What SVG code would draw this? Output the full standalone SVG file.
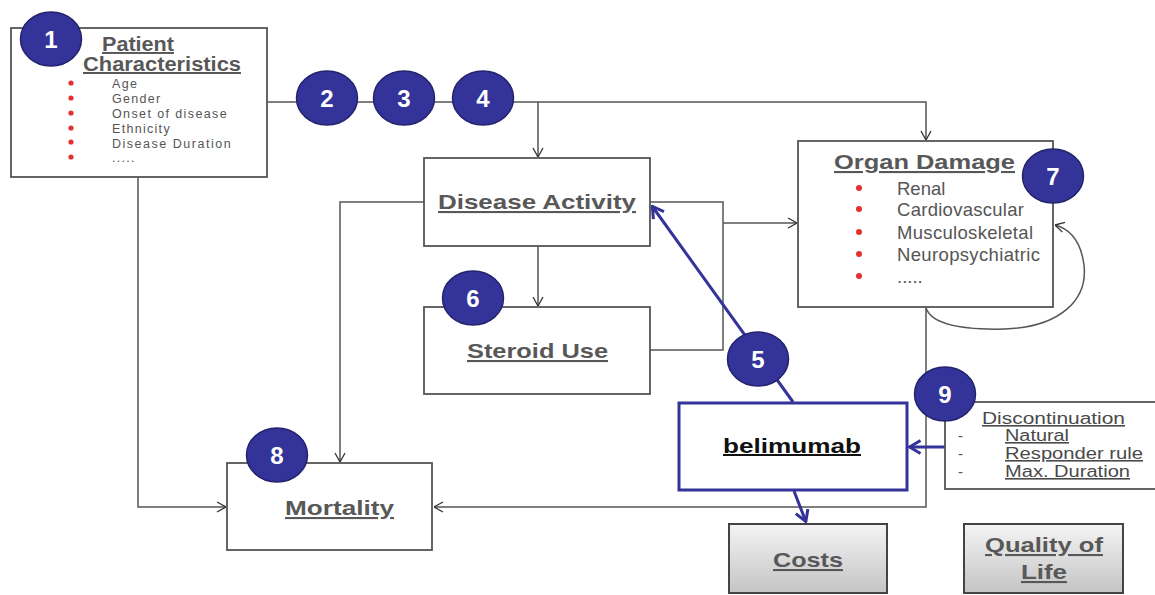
<svg xmlns="http://www.w3.org/2000/svg" width="1155" height="595" viewBox="0 0 1155 595">
<style>
text{font-family:"Liberation Sans",Arial,sans-serif}
.box{fill:#fff;stroke:#555;stroke-width:1.8}
.gbox{fill:url(#grey);stroke:#444;stroke-width:2}
.blue{fill:#fff;stroke:#33339a;stroke-width:3}
.title{font-weight:bold;fill:#585858;text-decoration:underline}
.item{fill:#555;font-size:12.5px;letter-spacing:1.3px}
.oitem{fill:#555;font-size:18.5px}
.ditem{fill:#4a4a4a;font-size:16px;text-decoration:underline}
.bul{fill:#e53030}
.conn{fill:none;stroke:#555;stroke-width:1.5}
.bconn{fill:none;stroke:#33339a;stroke-width:3}
.badge ellipse{fill:#333399;stroke:#23236e;stroke-width:1.5}
.badge text{fill:#fff;font-weight:bold;font-size:24px;text-anchor:middle}
</style>
<defs>
<linearGradient id="grey" x1="0" y1="0" x2="0" y2="1">
<stop offset="0" stop-color="#f4f4f4"/>
<stop offset="1" stop-color="#c4c4c4"/>
</linearGradient>
<marker id="ah" viewBox="0 0 10 12" refX="10" refY="6" markerWidth="10" markerHeight="12" markerUnits="userSpaceOnUse" orient="auto">
<path d="M1,1 L10,6 L1,11" fill="none" stroke="#333" stroke-width="1.3"/>
</marker>
<marker id="bh" viewBox="0 0 14 16" refX="13" refY="8" markerWidth="14" markerHeight="16" markerUnits="userSpaceOnUse" orient="auto">
<path d="M1.5,1.5 L12.5,8 L1.5,14.5" fill="none" stroke="#33339a" stroke-width="3"/>
</marker>
</defs>
<rect width="1155" height="595" fill="#fff"/>

<g id="connectors">
<path class="conn" d="M267,102 H926 V140" marker-end="url(#ah)"/>
<path class="conn" d="M538,102 V157" marker-end="url(#ah)"/>
<path class="conn" d="M538,246 V306" marker-end="url(#ah)"/>
<path class="conn" d="M138,177 V507 H226" marker-end="url(#ah)"/>
<path class="conn" d="M424,202 H340 V462" marker-end="url(#ah)"/>
<path class="conn" d="M650,202 H723 V350 H650"/>
<path class="conn" d="M723,223 H797" marker-end="url(#ah)"/>
<path class="conn" d="M926,307 V507 H434" marker-end="url(#ah)"/>
<path class="conn" d="M926,308 C932,325 965,330 1005,329 C1060,327 1088,300 1084,265 C1081,242 1070,229 1055,225" marker-end="url(#ah)"/>
<path class="bconn" d="M793,402 L652,206" marker-end="url(#bh)"/>
<path class="bconn" d="M794,491 L806,522" marker-end="url(#bh)"/>
<path class="bconn" d="M945,447 H909" marker-end="url(#bh)"/>
</g>

<g id="patient">
<rect class="box" x="11" y="28" width="256" height="149"/>
<text class="title" x="102" y="51" font-size="19.5" textLength="72" lengthAdjust="spacingAndGlyphs">Patient</text>
<text class="title" x="83" y="71" font-size="20" textLength="158" lengthAdjust="spacingAndGlyphs">Characteristics</text>
<circle class="bul" cx="71" cy="83" r="2.6"/>
<circle class="bul" cx="71" cy="98" r="2.6"/>
<circle class="bul" cx="71" cy="113" r="2.6"/>
<circle class="bul" cx="71" cy="128" r="2.6"/>
<circle class="bul" cx="71" cy="142" r="2.6"/>
<circle class="bul" cx="71" cy="157" r="2.6"/>
<text class="item" x="112" y="88">Age</text>
<text class="item" x="112" y="103">Gender</text>
<text class="item" x="112" y="118" textLength="116">Onset of disease</text>
<text class="item" x="112" y="133">Ethnicity</text>
<text class="item" x="112" y="148" textLength="120">Disease Duration</text>
<text class="item" x="112" y="162">.....</text>
</g>

<g id="disease-activity">
<rect class="box" x="424" y="158" width="226" height="88"/>
<text class="title" x="438" y="209" font-size="21" textLength="198" lengthAdjust="spacingAndGlyphs">Disease Activity</text>
</g>

<g id="steroid-use">
<rect class="box" x="424" y="307" width="226" height="87"/>
<text class="title" x="467" y="358" font-size="21" textLength="141" lengthAdjust="spacingAndGlyphs">Steroid Use</text>
</g>

<g id="organ-damage">
<rect class="box" x="798" y="141" width="255" height="166"/>
<text class="title" x="834" y="169" font-size="21" textLength="181" lengthAdjust="spacingAndGlyphs">Organ Damage</text>
<circle class="bul" cx="859" cy="188" r="3"/>
<circle class="bul" cx="859" cy="209" r="3"/>
<circle class="bul" cx="859" cy="232" r="3"/>
<circle class="bul" cx="859" cy="254" r="3"/>
<circle class="bul" cx="859" cy="276" r="3"/>
<text class="oitem" x="897" y="195">Renal</text>
<text class="oitem" x="897" y="216" textLength="127">Cardiovascular</text>
<text class="oitem" x="897" y="239" textLength="136">Musculoskeletal</text>
<text class="oitem" x="897" y="261" textLength="143">Neuropsychiatric</text>
<text class="oitem" x="897" y="283" fill="#888">.....</text>
</g>

<g id="mortality">
<rect class="box" x="227" y="463" width="205" height="87"/>
<text class="title" x="285" y="515" font-size="21" textLength="109" lengthAdjust="spacingAndGlyphs">Mortality</text>
</g>

<g id="belimumab">
<rect class="blue" x="679" y="403" width="228" height="87"/>
<text x="723" y="453" font-size="20" font-weight="bold" fill="#111" text-decoration="underline" textLength="138" lengthAdjust="spacingAndGlyphs">belimumab</text>
</g>

<g id="discontinuation">
<rect class="box" x="945" y="402" width="220" height="87"/>
<text class="ditem" x="982" y="424" font-size="17" textLength="143" lengthAdjust="spacingAndGlyphs">Discontinuation</text>
<text x="958" y="441" font-size="15" fill="#555">-</text>
<text x="958" y="459" font-size="15" fill="#555">-</text>
<text x="958" y="477" font-size="15" fill="#555">-</text>
<text class="ditem" x="1005" y="441" textLength="64" lengthAdjust="spacingAndGlyphs">Natural</text>
<text class="ditem" x="1005" y="459" textLength="138" lengthAdjust="spacingAndGlyphs">Responder rule</text>
<text class="ditem" x="1005" y="477" textLength="125" lengthAdjust="spacingAndGlyphs">Max. Duration</text>
</g>

<g id="costs">
<rect class="gbox" x="729" y="524" width="158" height="69"/>
<text class="title" x="773" y="567" font-size="21" fill="#666" textLength="70" lengthAdjust="spacingAndGlyphs">Costs</text>
</g>

<g id="quality-of-life">
<rect class="gbox" x="964" y="524" width="159" height="69"/>
<text class="title" x="985" y="552" font-size="21" textLength="118" lengthAdjust="spacingAndGlyphs">Quality of</text>
<text class="title" x="1021" y="579" font-size="21" textLength="46" lengthAdjust="spacingAndGlyphs">Life</text>
</g>

<g id="badge-1" class="badge"><ellipse cx="51" cy="39" rx="30.5" ry="27"/><text x="51" y="48">1</text></g>
<g id="badge-2" class="badge"><ellipse cx="327" cy="98" rx="30.5" ry="27"/><text x="327" y="107">2</text></g>
<g id="badge-3" class="badge"><ellipse cx="404" cy="98" rx="30.5" ry="27"/><text x="404" y="107">3</text></g>
<g id="badge-4" class="badge"><ellipse cx="483" cy="98" rx="30.5" ry="27"/><text x="483" y="107">4</text></g>
<g id="badge-5" class="badge"><ellipse cx="758" cy="359" rx="30.5" ry="27"/><text x="758" y="368">5</text></g>
<g id="badge-6" class="badge"><ellipse cx="473" cy="298" rx="30.5" ry="27"/><text x="473" y="307">6</text></g>
<g id="badge-7" class="badge"><ellipse cx="1053" cy="176" rx="30.5" ry="27"/><text x="1053" y="185">7</text></g>
<g id="badge-8" class="badge"><ellipse cx="277" cy="455" rx="30.5" ry="27"/><text x="277" y="464">8</text></g>
<g id="badge-9" class="badge"><ellipse cx="945" cy="394" rx="30.5" ry="27"/><text x="945" y="403">9</text></g>
</svg>
